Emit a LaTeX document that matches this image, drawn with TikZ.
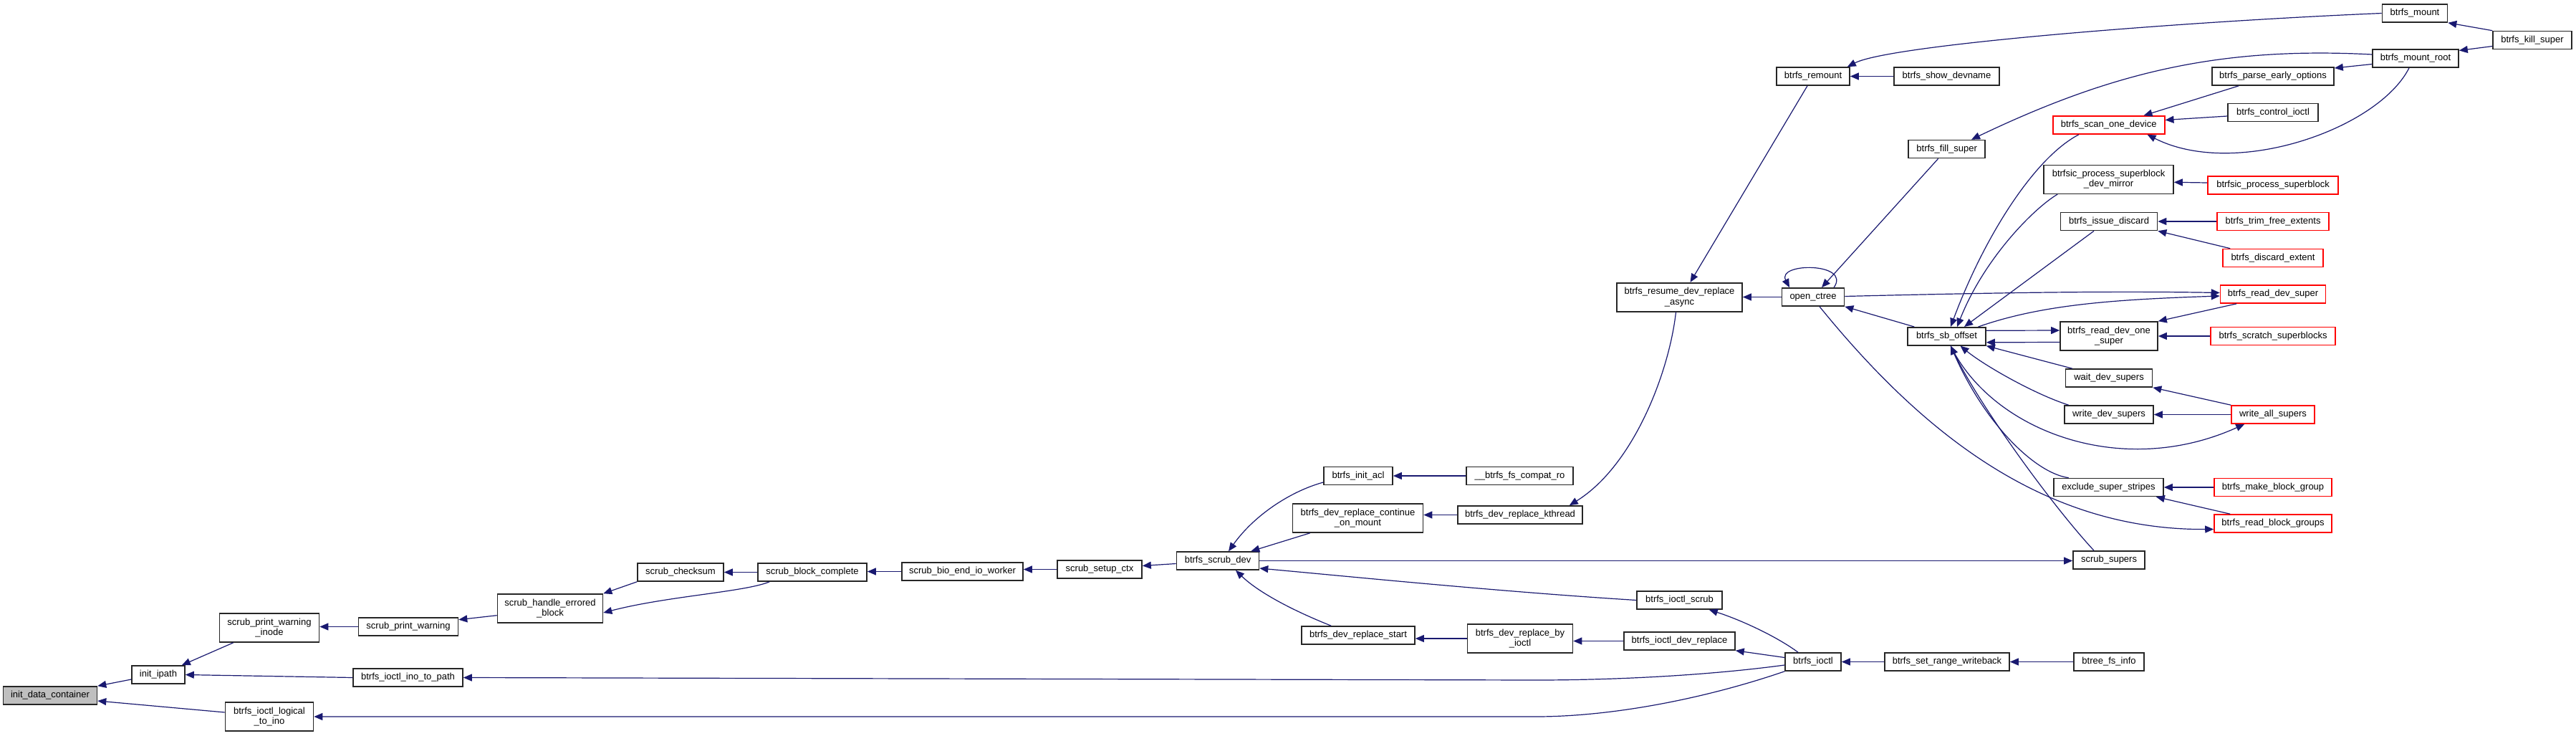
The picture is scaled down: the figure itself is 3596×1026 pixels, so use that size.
\documentclass[tikz,border=0pt]{standalone}
\usepackage{fontspec}
\setmainfont{Liberation Sans}
\usetikzlibrary{arrows.meta}
\definecolor{edgeblue}{HTML}{191970}
\tikzset{
  box/.style={draw=black!85, line width=1.6pt, fill=white, inner sep=0pt, align=center,
    font=\fontsize{13}{14.5}\selectfont, minimum height=25pt},
  tall/.style={minimum height=40pt},
  redbox/.style={box, draw=red},
  rootbox/.style={box, fill=black!25},
  edge/.style={draw=edgeblue, line width=1.2pt, -{Triangle[length=12pt,width=10pt]}}
}
\begin{document}
\begin{tikzpicture}[x=1pt,y=-1pt]
\fill[white] (0,0) rectangle (3596,1026);
\useasboundingbox (0,0) rectangle (3596,1026);
% nodes
\node[rootbox, minimum width=131pt] (idc) at (70,970.5) {init\_data\_container};
\node[box, minimum width=74pt] (ipath) at (221,941.5) {init\_ipath};
\node[box, tall, minimum width=139pt] (spwi) at (376,876) {scrub\_print\_warning\\\_inode};
\node[box, minimum width=139pt] (spw) at (570,874.5) {scrub\_print\_warning};
\node[box, tall, minimum width=147pt] (sheb) at (768,849) {scrub\_handle\_errored\\\_block};
\node[box, minimum width=153pt] (iitp) at (569.5,945.5) {btrfs\_ioctl\_ino\_to\_path};
\node[box, tall, minimum width=123pt] (iltI) at (376,1000) {btrfs\_ioctl\_logical\\\_to\_ino};
\node[box, minimum width=120pt] (scs) at (950,798.5) {scrub\_checksum};
\node[box, minimum width=152pt] (sbc) at (1134,798.5) {scrub\_block\_complete};
\node[box, minimum width=169pt] (sbeiw) at (1343.5,797.5) {scrub\_bio\_end\_io\_worker};
\node[box, minimum width=118pt] (ssc) at (1535,794.5) {scrub\_setup\_ctx};
\node[box, minimum width=115pt] (bsd) at (1700,782.5) {btrfs\_scrub\_dev};
\node[box, minimum width=96pt] (bia) at (1896,664) {btrfs\_init\_acl};
\node[box, minimum width=149pt] (bfcr) at (2121.5,664) {\_\_btrfs\_fs\_compat\_ro};
\node[box, tall, minimum width=182pt] (bdrcom) at (1895.5,723) {btrfs\_dev\_replace\_continue\\\_on\_mount};
\node[box, minimum width=174pt] (bdrk) at (2122,718.5) {btrfs\_dev\_replace\_kthread};
\node[box, minimum width=119pt] (bis) at (2344.5,837.5) {btrfs\_ioctl\_scrub};
\node[box, minimum width=158pt] (bdrs) at (1896,886.5) {btrfs\_dev\_replace\_start};
\node[box, tall, minimum width=147pt] (bdrbi) at (2122,891) {btrfs\_dev\_replace\_by\\\_ioctl};
\node[box, minimum width=155pt] (bidr) at (2344.5,894.5) {btrfs\_ioctl\_dev\_replace};
\node[box, minimum width=78pt] (bi) at (2531,923.5) {btrfs\_ioctl};
\node[box, minimum width=174pt] (bsrw) at (2718,923.5) {btrfs\_set\_range\_writeback};
\node[box, minimum width=98pt] (bfi) at (2944,923.5) {btree\_fs\_info};
\node[box, minimum width=100pt] (ss) at (2944,781.5) {scrub\_supers};
\node[box, minimum width=121pt] (wds) at (2944,527.5) {wait\_dev\_supers};
\node[box, minimum width=124pt] (wrds) at (2944,578.5) {write\_dev\_supers};
\node[redbox, minimum width=116pt] (was) at (3173,578.5) {write\_all\_supers};
\node[box, minimum width=153pt] (ess) at (2943.5,680) {exclude\_super\_stripes};
\node[redbox, minimum width=164pt] (bmbg) at (3173,680) {btrfs\_make\_block\_group};
\node[redbox, minimum width=164pt] (brbg) at (3173,730.5) {btrfs\_read\_block\_groups};
\node[box, minimum width=102pt] (brm) at (2531,106.5) {btrfs\_remount};
\node[box, minimum width=147pt] (bsdn) at (2717.5,106.5) {btrfs\_show\_devname};
\node[box, tall, minimum width=175pt] (brdra) at (2344.5,414.7) {btrfs\_resume\_dev\_replace\\\_async};
\node[box, minimum width=87pt] (oc) at (2531,414.5) {open\_ctree};
\node[box, minimum width=107pt] (bfs) at (2717.7,208) {btrfs\_fill\_super};
\node[box, minimum width=109pt] (bso) at (2717.5,469.3) {btrfs\_sb\_offset};
\node[box, minimum width=91pt] (bmt) at (3371,18.5) {btrfs\_mount};
\node[box, minimum width=110pt] (bks) at (3535,56) {btrfs\_kill\_super};
\node[box, minimum width=120pt] (bmr) at (3372,81.5) {btrfs\_mount\_root};
\node[box, minimum width=170pt] (bpeo) at (3173,106.5) {btrfs\_parse\_early\_options};
\node[box, minimum width=126pt] (bci) at (3173,157) {btrfs\_control\_ioctl};
\node[redbox, minimum width=156pt] (bsod) at (2943.7,174.5) {btrfs\_scan\_one\_device};
\node[box, tall, minimum width=181pt] (bpsdm) at (2943.5,250.3) {btrfsic\_process\_superblock\\\_dev\_mirror};
\node[redbox, minimum width=182pt] (bpsb) at (3173,258.5) {btrfsic\_process\_superblock};
\node[box, minimum width=135pt] (bid) at (2944,309) {btrfs\_issue\_discard};
\node[redbox, minimum width=156pt] (btfe) at (3173,309) {btrfs\_trim\_free\_extents};
\node[redbox, minimum width=140pt] (bde) at (3173,360) {btrfs\_discard\_extent};
\node[redbox, minimum width=147pt] (brds) at (3173,410.5) {btrfs\_read\_dev\_super};
\node[box, tall, minimum width=136pt] (brdos) at (2944,469) {btrfs\_read\_dev\_one\\\_super};
\node[redbox, minimum width=174pt] (bssb) at (3173,469) {btrfs\_scratch\_superblocks};
% edges
\draw[edge] ([yshift=-6.5pt]ipath.west) -- (idc.north east);
\draw[edge] ([yshift=6pt]iltI.west) -- ([yshift=-7.5pt]idc.east);
\draw[edge] ([xshift=20pt]spwi.south west) -- ([xshift=-5pt]ipath.north east);
\draw[edge] (iitp.west) -- (ipath.east);
\draw[edge] (spw.west) -- (spw.west -| spwi.east);
\draw[edge] ([yshift=-9.7pt]sheb.west) -- ([yshift=9.8pt]spw.east);
\draw[edge] (scs.south west) -- (sheb.north east);
\draw[edge] ([xshift=17pt]sbc.south west) .. controls (1040,826) and (930,832) .. ([yshift=-6pt]sheb.east);
\draw[edge] (sbc.west) -- (sbc.west -| scs.east);
\draw[edge] (sbeiw.west) -- (sbeiw.west -| sbc.east);
\draw[edge] (ssc.west) -- (ssc.west -| sbeiw.east);
\draw[edge] ([yshift=-4pt]bsd.west) -- ([yshift=5pt]ssc.east);
\draw[edge] ([yshift=-9pt]bia.west) .. controls (1800,686) and (1750,720) .. ([xshift=15pt]bsd.north);
\draw[edge] ([xshift=25pt]bdrcom.south west) -- ([xshift=-12pt]bsd.north east);
\draw[edge] (bis.west) .. controls (2100,826) and (1900,806) .. ([yshift=-10.5pt]bsd.east);
\draw[edge] ([xshift=42pt]bdrs.north west) .. controls (1800,850) and (1755,825) .. ([xshift=25pt]bsd.south);
\draw[edge] (bsd.east) -- (bsd.east -| ss.west);
\draw[edge] (bfcr.west) -- (bfcr.west -| bia.east);
\draw[edge] (bdrk.west) -- (bdrk.west -| bdrcom.east);
\draw[edge] ([xshift=-5pt]brdra.south) .. controls (2330,520) and (2280,650) .. ([xshift=-19pt]bdrk.north east);
\draw[edge] ([xshift=-8pt]brm.south) -- ([xshift=15pt]brdra.north);
\draw[edge] (oc.west) -- (oc.west -| brdra.east);
\draw[edge] (bsdn.west) -- (bsdn.west -| brm.east);
\draw[edge] (bmt.west) .. controls (3050,30) and (2640,62) .. ([xshift=-4pt]brm.north east);
\draw[edge] (bks.north west) -- (bmt.south east);
\draw[edge] ([yshift=-8.5pt]bks.west) -- ([yshift=11pt]bmr.east);
\draw[edge] ([yshift=-8pt]bmr.west) -- ([yshift=11.5pt]bpeo.east);
\draw[edge] ([xshift=38pt]bpeo.south west) -- ([xshift=-30pt]bsod.north east);
\draw[edge] ([yshift=-5pt]bci.west) -- ([yshift=7pt]bsod.east);
\draw[edge] ([xshift=-9pt]bmr.south) .. controls (3320,180) and (3120,250) .. ([xshift=-25pt]bsod.south east);
\draw[edge] ([yshift=5.5pt]bmr.west) .. controls (3100,65) and (2950,100) .. ([xshift=-20pt]bfs.north east);
\draw[edge] ([xshift=-12pt]bfs.south) -- ([xshift=12pt]oc.north);
\draw[edge] ([xshift=29pt]oc.north) .. controls (2585,366) and (2480,366) .. ([xshift=-33pt]oc.north);
\draw[edge] ([yshift=1pt]oc.east) .. controls (2800,408) and (2950,406) .. ([yshift=2pt]brds.west);
\draw[edge] ([xshift=10pt]bso.north west) -- (oc.south east);
\draw[edge] ([xshift=9pt]oc.south) .. controls (2680,600) and (2850,740) .. ([yshift=-8pt]brbg.west);
\draw[edge] ([xshift=37pt]bsod.south west) .. controls (2840,220) and (2770,330) .. ([xshift=5.5pt]bso.north);
\draw[edge] ([xshift=20pt]bpsdm.south west) .. controls (2840,290) and (2770,360) .. ([xshift=14.5pt]bso.north);
\draw[edge] ([xshift=-21pt]bid.south) -- ([xshift=24.5pt]bso.north);
\draw[edge] ([xshift=44pt]bso.north) .. controls (2850,425) and (2950,418) .. ([yshift=-2.5pt]brds.west);
\draw[edge] ([yshift=8pt]bso.east) -- ([yshift=8pt]brdos.west);
\draw[edge] ([yshift=-8.5pt]brdos.west) -- ([yshift=-8.5pt]bso.east);
\draw[edge] ([xshift=10pt]wds.north west) -- (bso.south east);
\draw[edge] ([xshift=6.5pt]wrds.north west) .. controls (2840,550) and (2770,510) .. ([xshift=19pt]bso.south);
\draw[edge] ([xshift=-21pt]ss.north) .. controls (2860,700) and (2760,560) .. ([xshift=5.5pt]bso.south);
\draw[edge] ([xshift=21.5pt]ess.north west) .. controls (2840,660) and (2770,590) .. ([xshift=5.5pt]bso.south);
\draw[edge] ([xshift=5.5pt]bso.south) .. controls (2780,600) and (2960,670) .. ([xshift=19pt]was.south west);
\draw[edge] ([xshift=23.5pt]brds.south west) -- (brdos.north east);
\draw[edge] (bssb.west) -- (bssb.west -| brdos.east);
\draw[edge] ([yshift=3.5pt]bpsb.west) -- ([yshift=-4pt]bpsdm.east);
\draw[edge] (btfe.west) -- (btfe.west -| bid.east);
\draw[edge] ([xshift=11pt]bde.north west) -- (bid.south east);
\draw[edge] (was.north west) -- (wds.south east);
\draw[edge] (was.west) -- (was.west -| wrds.east);
\draw[edge] (bmbg.west) -- (bmbg.west -| ess.east);
\draw[edge] ([xshift=23pt]brbg.north west) -- ([xshift=-11pt]ess.south east);
\draw[edge] ([xshift=-21pt]bi.north) .. controls (2480,888) and (2430,865) .. ([xshift=-19pt]bis.south east);
\draw[edge] (bdrbi.west) -- (bdrbi.west -| bdrs.east);
\draw[edge] (bidr.west) -- (bidr.west -| bdrbi.east);
\draw[edge] ([yshift=6pt]bi.west) -- (bidr.south east);
\draw[edge] ([yshift=-4.5pt]bi.west) .. controls (2380,943) and (2250,949) .. (2144,949) -- (iitp.east);
\draw[edge] (bi.south west) .. controls (2380,975) and (2250,1000) .. (2144,1000) -- (iltI.east);
\draw[edge] (bsrw.west) -- (bsrw.west -| bi.east);
\draw[edge] (bfi.west) -- (bfi.west -| bsrw.east);
\end{tikzpicture}
\end{document}
